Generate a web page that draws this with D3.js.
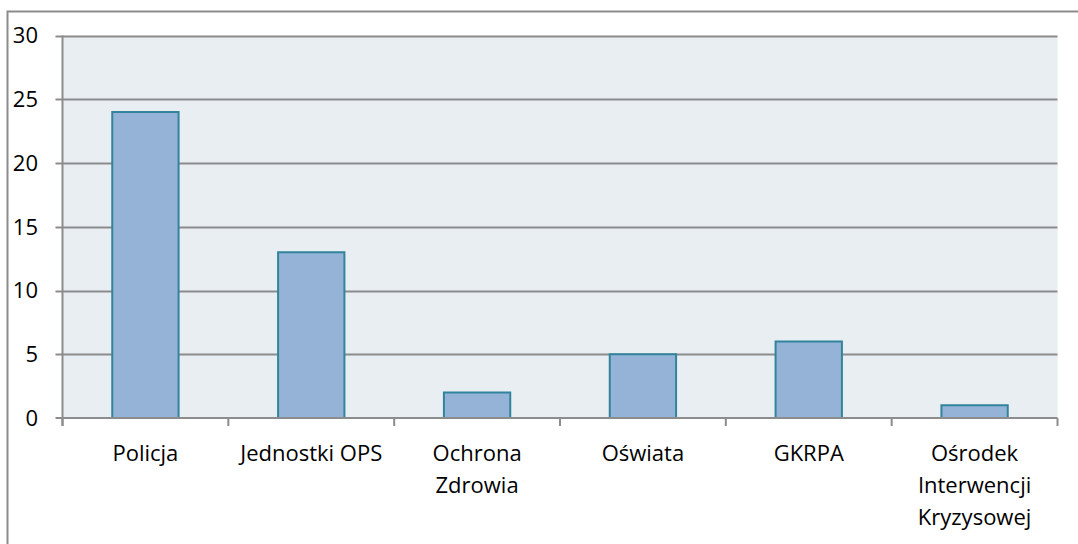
<!DOCTYPE html>
<html>
<head>
<meta charset="utf-8">
<script src="https://cdn.jsdelivr.net/npm/d3@7"></script>
<style>
  body { margin: 0; background: #fff; }
  text { font-family: "Open Sans", "Noto Sans", sans-serif; fill: #000; }
</style>
</head>
<body>
<svg id="chart" width="1078" height="544"></svg>
<script>
const categories = [
    ["Policja"],
    ["Jednostki OPS"],
    ["Ochrona", "Zdrowia"],
    ["Oświata"],
    ["GKRPA"],
    ["Ośrodek", "Interwencji", "Kryzysowej"]
]
const values = [24, 13, 2, 5, 6, 1]
const yTicks = [0, 5, 10, 15, 20, 25, 30]

const svg = d3.select("#chart")
const margin = { left: 62.5, right: 1057.5, top: 35.5, bottom: 418 }

// outer frame (only top and left visible)
svg.append("path")
    .attr("d", "M7.5,544 L7.5,11.5 L1078,11.5")
    .attr("fill", "none")
    .attr("stroke", "#8c8c8c")
    .attr("stroke-width", 2)

let x = d3.scaleBand()
    .domain(d3.range(categories.length))
    .range([margin.left, margin.right])
    .paddingInner(0.6)
    .paddingOuter(0.3)

let xTicks = d3.scaleBand()
    .domain(d3.range(categories.length))
    .range([margin.left, margin.right])

let y = d3.scaleLinear()
    .domain([0, 30])
    .range([margin.bottom, margin.top])

// plot background
svg.append("rect")
    .attr("x", margin.left)
    .attr("y", margin.top)
    .attr("width", margin.right - margin.left)
    .attr("height", margin.bottom - margin.top)
    .attr("fill", "#e8eef2")

// gridlines
svg.append("g")
    .selectAll("line")
    .data(yTicks.filter(d => d > 0))
    .enter().append("line")
    .attr("x1", margin.left - 7)
    .attr("x2", margin.right)
    .attr("y1", d => Math.round(y(d)) + 0.5)
    .attr("y2", d => Math.round(y(d)) + 0.5)
    .attr("stroke", "#8c8c8c")
    .attr("stroke-width", 2)

// y axis line
svg.append("line")
    .attr("x1", margin.left).attr("x2", margin.left)
    .attr("y1", margin.top).attr("y2", margin.bottom + 8)
    .attr("stroke", "#8c8c8c")
    .attr("stroke-width", 2)

// bars
svg.append("g")
    .selectAll("rect")
    .data(values)
    .enter().append("rect")
    .attr("x", (d, i) => x(i))
    .attr("y", d => y(d))
    .attr("width", x.bandwidth())
    .attr("height", d => y(0) - y(d))
    .attr("fill", "#95b3d7")
    .attr("stroke", "#31849b")
    .attr("stroke-width", 2)

// x axis line + ticks
svg.append("line")
    .attr("x1", margin.left - 7).attr("x2", margin.right)
    .attr("y1", y(0)).attr("y2", y(0))
    .attr("stroke", "#8c8c8c")
    .attr("stroke-width", 2)

svg.append("g")
    .selectAll("line")
    .data(d3.range(categories.length + 1))
    .enter().append("line")
    .attr("x1", i => i < categories.length ? xTicks(i) : margin.right)
    .attr("x2", i => i < categories.length ? xTicks(i) : margin.right)
    .attr("y1", y(0))
    .attr("y2", y(0) + 8)
    .attr("stroke", "#8c8c8c")
    .attr("stroke-width", 2)

// y tick labels
svg.append("g")
    .selectAll("text")
    .data(yTicks)
    .enter().append("text")
    .attr("x", 38)
    .attr("y", d => y(d))
    .attr("dy", "0.36em")
    .attr("text-anchor", "end")
    .style("font-size", "22px")
    .text(d => d)

// category labels
let labels = svg.append("g")
    .selectAll("text")
    .data(categories)
    .enter().append("text")
    .attr("text-anchor", "middle")
    .style("font-size", "22px")

labels.selectAll("tspan")
    .data((d, i) => d.map(line => ({ line, i })))
    .enter().append("tspan")
    .attr("x", d => xTicks(d.i) + xTicks.bandwidth() / 2)
    .attr("y", (d, j) => 461 + j * 32)
    .text(d => d.line)
</script>
</body>
</html>
